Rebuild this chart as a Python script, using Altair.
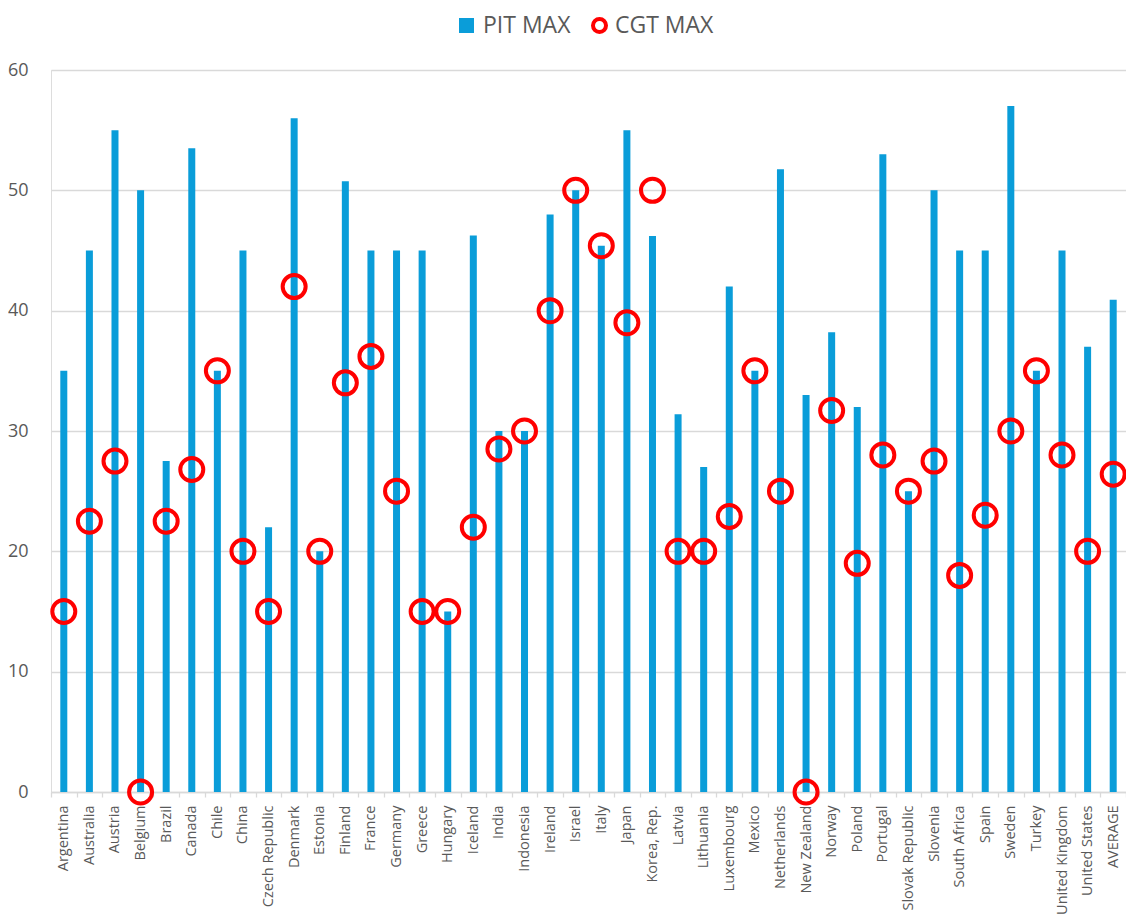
import altair as alt
import pandas as pd

countries = ["Argentina", "Australia", "Austria", "Belgium", "Brazil", "Canada", "Chile",
             "China", "Czech Republic", "Denmark", "Estonia", "Finland", "France", "Germany",
             "Greece", "Hungary", "Iceland", "India", "Indonesia", "Ireland", "Israel", "Italy",
             "Japan", "Korea, Rep.", "Latvia", "Lithuania", "Luxembourg", "Mexico",
             "Netherlands", "New Zealand", "Norway", "Poland", "Portugal", "Slovak Republic",
             "Slovenia", "South Africa", "Spain", "Sweden", "Turkey", "United Kingdom",
             "United States", "AVERAGE"]

pit_max = [35, 45, 55, 50, 27.5, 53.5, 35, 45, 22, 56, 20, 50.75, 45, 45, 45, 15, 46.25, 30,
           30, 48, 50, 45.4, 55, 46.2, 31.4, 27, 42, 35, 51.75, 33, 38.2, 32, 53, 25, 50, 45,
           45, 57, 35, 45, 37, 40.9]

cgt_max = [15, 22.5, 27.5, 0, 22.5, 26.8, 35, 20, 15, 42, 20, 34, 36.2, 25, 15, 15, 22, 28.5,
           30, 40, 50, 45.4, 39, 50, 20, 20, 22.9, 35, 25, 0, 31.7, 19, 28, 25, 27.5, 18, 23,
           30, 35, 28, 20, 26.4]

series_names = ["PIT MAX", "CGT MAX"]
y_ticks = [0, 10, 20, 30, 40, 50, 60]

pit_df = pd.DataFrame({"country": countries, "value": pit_max, "series": series_names[0]})
cgt_df = pd.DataFrame({"country": countries, "value": cgt_max, "series": series_names[1]})

BLUE = "#0A9DD9"
RED = "#FF0000"
TXT = "#595959"
GRID = "#D9D9D9"
FONT = "Open Sans"

x_enc = alt.X(
    "country:N",
    sort=countries,
    scale=alt.Scale(paddingInner=0, paddingOuter=0),
    axis=alt.Axis(
        title=None, labelAngle=-90, labelFontSize=14.5, labelColor=TXT, labelFont=FONT,
        domainColor=GRID, domainWidth=1.3, tickColor=GRID, tickWidth=1.3, tickSize=5,
        tickBand="extent", labelPadding=8, labelOverlap=False, labelLimit=0,
    ),
)
y_enc = alt.Y(
    "value:Q",
    scale=alt.Scale(domain=[0, 60], nice=False),
    axis=alt.Axis(
        title=None, values=y_ticks, labelFontSize=18, labelColor=TXT, labelFont=FONT,
        domain=False, ticks=False, gridColor=GRID, gridWidth=1.3, labelPadding=23,
    ),
)

bars = alt.Chart(pit_df).mark_bar(size=7).encode(
    x=x_enc,
    y=y_enc,
    fill=alt.Fill(
        "series:N",
        scale=alt.Scale(domain=[series_names[0]], range=[BLUE]),
        legend=alt.Legend(
            title=None, orient="none", legendX=404, legendY=-56, symbolType="square",
            symbolSize=225, symbolStrokeWidth=0, labelFontSize=23, labelColor=TXT,
            labelFont=FONT, labelOffset=5, padding=0,
        ),
    ),
)

points = alt.Chart(cgt_df).mark_point(filled=False, size=529, strokeWidth=4, opacity=1).encode(
    x=x_enc,
    y=y_enc,
    stroke=alt.Stroke(
        "series:N",
        scale=alt.Scale(domain=[series_names[1]], range=[RED]),
        legend=alt.Legend(
            title=None, orient="none", legendX=537, legendY=-56, symbolType="circle",
            symbolSize=169, symbolStrokeWidth=4, labelFontSize=23, labelColor=TXT,
            labelFont=FONT, labelOffset=4, padding=0,
        ),
    ),
)

chart = alt.layer(bars, points).resolve_scale(fill="independent", stroke="independent").properties(
    width=1075,
    height=722,
    autosize=alt.AutoSizeParams(type="none"),
    padding={"left": 43, "top": 62, "right": 0, "bottom": 124},
).configure_view(stroke=None).configure(font=FONT)

chart.save("out.html", embed_options={"renderer": "svg", "actions": False})
